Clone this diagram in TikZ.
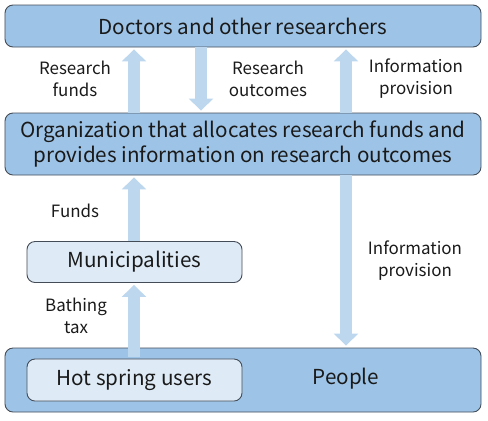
\documentclass[tikz,border=0pt]{standalone}
\usepackage{fontspec}
\setmainfont{Noto Sans CJK JP}
\usepackage{tikz}
\usetikzlibrary{arrows.meta}
\definecolor{boxfill}{HTML}{9DC3E6}
\definecolor{subfill}{HTML}{DEEBF7}
\definecolor{boxline}{HTML}{444C57}
\definecolor{flowfill}{HTML}{BDD7EE}
\definecolor{txt}{HTML}{1A1A1A}

\begin{document}
\begin{tikzpicture}[x=1bp, y=-1bp]
\tikzstyle{every node}=[inner sep=0pt, text=txt]
\tikzstyle{panel}=[draw=boxline, line width=0.9bp, rounded corners=8bp, fill=boxfill, font=\fontsize{20.7}{25}\selectfont, align=center]
\tikzstyle{subpanel}=[panel, fill=subfill]
\tikzstyle{tag}=[font=\fontsize{17}{22}\selectfont, align=center]
\tikzstyle{flow}=[draw=flowfill, line width=12bp, -{Triangle[width=24bp, length=12bp]}, shorten >=2bp]
\useasboundingbox (0,0) rectangle (488,420);
% boxes
\node[panel, minimum width=476bp, minimum height=42bp] (doc) at (243,26) {Doctors and other researchers};
\node[panel, minimum width=476bp, minimum height=62bp] (org) at (243,144) {Organization that allocates research funds and\\provides information on research outcomes};
\node[subpanel, minimum width=215bp, minimum height=41bp] (mun) at (134.5,262) {Municipalities};
\node[panel, minimum width=476bp, minimum height=64bp] (ppl) at (243,380) {};
\node[subpanel, minimum width=215bp, minimum height=42bp] (hot) at (134.5,380) {Hot spring users};
\node[panel, draw=none, fill=none] (pplt) at (346,379) {People};
% arrow columns
\coordinate (c1) at (134,0);
\coordinate (c2) at (201,0);
\coordinate (c3) at (346,0);
% labels
\node[tag] (l1) at (75,79) {Research\\funds};
\node[tag] (l2) at (268,79) {Research\\outcomes};
\node[tag] (l3) at (416,79) {Information\\provision};
\node[tag] (l4) at (75,211) {Funds};
\node[tag] (l5) at (415,261) {Information\\provision};
\node[tag] (l6) at (76,316) {Bathing\\tax};
% flows
\draw[flow] (org.north -| c1) -- (doc.south -| c1);
\draw[flow] (doc.south -| c2) -- (org.north -| c2);
\draw[flow] (org.north -| c3) -- (doc.south -| c3);
\draw[flow] (mun.north -| c1) -- (org.south -| c1);
\draw[flow] (org.south -| c3) -- (ppl.north -| c3);
\draw[flow] ([yshift=2bp]hot.north -| c1) -- (mun.south -| c1);
\end{tikzpicture}
\end{document}
